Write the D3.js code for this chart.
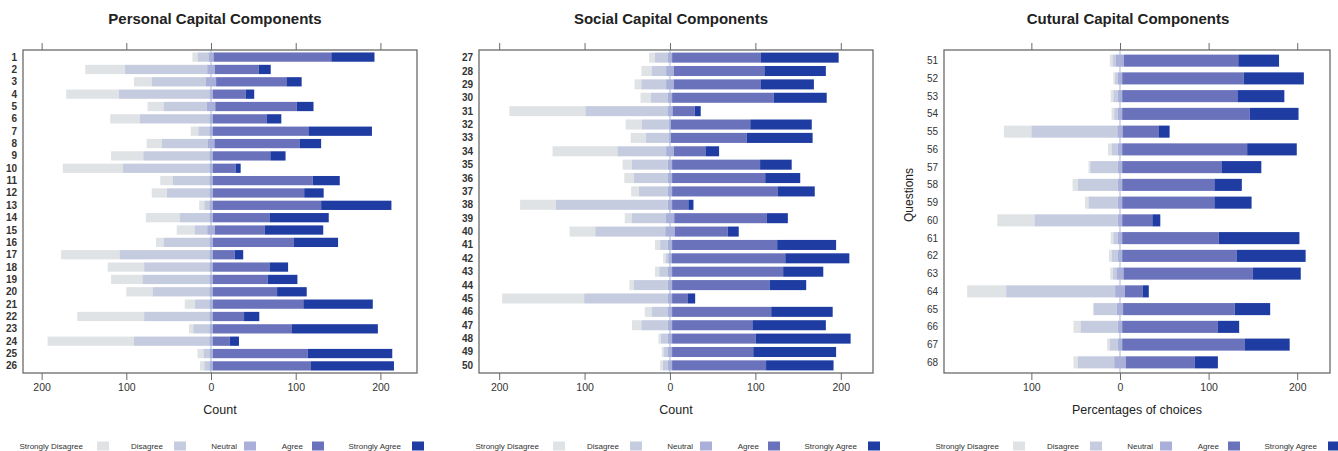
<!DOCTYPE html>
<html>
<head>
<meta charset="utf-8">
<script src="https://cdn.jsdelivr.net/npm/d3@7"></script>
<style>
  body { margin: 0; background: #fff; }
  svg { display: block; font-family: "Liberation Sans", Arial, sans-serif; }
</style>
</head>
<body>
<svg id="chart" width="1338" height="451"></svg>
<script>
// Response levels and their fills
const levels = ["Strongly Disagree", "Disagree", "Neutral", "Agree", "Strongly Agree"];
const levelColors = ["#e0e3e6", "#c6cce0", "#a9afd8", "#6a72bb", "#1e3ca2"];

// Personal capital questions (counts per response level)
const personalQuestions = ["1","2","3","4","5","6","7","8","9","10","11","12","13","14","15","16","17","18","19","20","21","22","23","24","25","26"];
const personalSD = [6,47,21,62,19,35,9,18,38,71,15,18,6,40,21,9,69,43,37,31,12,79,5,102,7,5];
const personalD  = [13,97,64,107,51,82,13,54,78,102,43,50,6,35,15,54,106,77,79,67,17,77,19,89,7,6];
const personalN  = [6,9,12,4,10,4,4,8,4,4,4,4,4,4,9,4,4,4,4,4,4,4,4,4,4,4];
const personalA  = [139,52,83,39,96,64,113,101,68,27,118,108,128,67,59,96,26,67,65,76,107,37,93,20,112,116];
const personalSA = [51,14,18,10,20,17,75,25,18,6,32,23,83,70,69,52,10,22,35,35,82,18,102,11,100,98];

// Social capital questions
const socialQuestions = ["27","28","29","30","31","32","33","34","35","36","37","38","39","40","41","42","43","44","45","46","47","48","49","50"];
const socialSD = [7,12,8,12,89,19,18,76,11,11,9,42,8,30,6,3,5,5,96,8,11,3,2,3];
const socialD  = [15,17,29,20,96,32,27,57,42,40,34,131,40,82,9,3,10,40,98,19,31,8,5,6];
const socialN  = [5,9,9,5,6,2,2,9,5,5,5,5,10,11,5,4,5,5,5,5,5,5,5,5];
const socialA  = [104,106,102,119,26,93,89,37,103,109,124,19,108,62,123,133,130,114,18,116,94,98,95,110];
const socialSA = [91,72,62,62,7,72,77,16,37,41,43,6,25,13,69,75,47,43,9,72,86,111,97,79];

// Cultural capital questions
const culturalQuestions = ["51","52","53","54","55","56","57","58","59","60","61","62","63","64","65","66","67","68"];
const culturalSD = [3,2,3,3,31,4,2,6,4,42,3,3,3,44,1,8,3,5];
const culturalD  = [4,3,5,4,97,7,31,45,33,94,5,7,4,123,26,42,9,41];
const culturalN  = [9,5,5,5,6,5,5,5,5,5,5,5,8,11,7,5,5,13];
const culturalA  = [129,137,130,144,41,141,112,104,104,34,109,129,146,20,126,108,138,78];
const culturalSA = [46,68,53,55,12,56,45,31,42,9,91,78,54,7,40,24,51,26];

const panels = [
  { title: "Personal Capital Components", titleX: 215, xLabel: "Count",
    questions: personalQuestions, series: [personalSD, personalD, personalN, personalA, personalSA],
    left: 23, right: 417, domain: [-222, 243.2], pad: 0.575, barFrac: 0.75,
    labelX: 17, labelWeight: "bold", legendX: 17 },
  { title: "Social Capital Components", titleX: 671, xLabel: "Count",
    questions: socialQuestions, series: [socialSD, socialD, socialN, socialA, socialSA],
    left: 479, right: 873, domain: [-223.6, 237.7], pad: 0.57, barFrac: 0.75,
    labelX: 473, labelWeight: "bold", legendX: 473 },
  { title: "Cutural Capital Components", titleX: 1128, xLabel: "Percentages of choices",
    questions: culturalQuestions, series: [culturalSD, culturalD, culturalN, culturalA, culturalSA],
    left: 944, right: 1330, domain: [-198.6, 237], pad: 0.6, barFrac: 0.68,
    labelX: 938, labelWeight: "normal", legendX: 933, yTitle: "Questions" }
];

const plotTop = 50, plotBottom = 373;
const svg = d3.select("#chart");

panels.forEach(p => {
  const g = svg.append("g");
  const x = d3.scaleLinear().domain(p.domain).range([p.left, p.right]);
  const y = d3.scalePoint().domain(p.questions).range([plotTop, plotBottom]).padding(p.pad);
  const bh = y.step() * p.barFrac;

  // Diverging stack: neutral is split evenly around zero
  const rows = p.questions.map((q, i) => {
    const [sd, d, n, a, sa] = p.series.map(s => s[i]);
    const segs = [
      [-(sd + d + n / 2), -(d + n / 2)],
      [-(d + n / 2), -n / 2],
      [-n / 2, n / 2],
      [n / 2, n / 2 + a],
      [n / 2 + a, n / 2 + a + sa]
    ];
    return { q, segs };
  });

  const rowG = g.selectAll("g.row").data(rows).join("g").attr("class", "row");
  rowG.selectAll("rect").data(r => r.segs.map((s, k) => ({ q: r.q, s, k })))
    .join("rect")
    .attr("x", d => x(d.s[0]))
    .attr("width", d => Math.max(0, x(d.s[1]) - x(d.s[0])))
    .attr("y", d => y(d.q) - bh / 2)
    .attr("height", bh)
    .attr("fill", d => levelColors[d.k]);

  // Zero reference line
  g.append("line")
    .attr("x1", x(0)).attr("x2", x(0))
    .attr("y1", plotTop).attr("y2", plotBottom)
    .attr("stroke", "#a7b6d8").attr("stroke-width", 1);

  // Frame
  g.append("rect")
    .attr("x", p.left).attr("y", plotTop)
    .attr("width", p.right - p.left).attr("height", plotBottom - plotTop)
    .attr("fill", "none").attr("stroke", "#6a6a6a").attr("stroke-width", 1.3);

  const ticks = [-200, -100, 0, 100, 200].filter(t => t >= p.domain[0] && t <= p.domain[1]);

  const xb = g.append("g").attr("transform", `translate(0,${plotBottom})`)
    .call(d3.axisBottom(x).tickValues(ticks).tickFormat(v => Math.abs(v)).tickSize(7).tickPadding(4));
  const xt = g.append("g").attr("transform", `translate(0,${plotTop})`)
    .call(d3.axisTop(x).tickValues(ticks).tickFormat("").tickSize(7));
  [xb, xt].forEach(a => {
    a.select(".domain").remove();
    a.selectAll(".tick line").attr("stroke", "#6a6a6a");
    a.selectAll("text").attr("fill", "#333").attr("font-size", 10.5)
      .attr("font-family", "Liberation Sans, Arial, sans-serif");
  });

  // Question labels
  g.selectAll("text.q").data(p.questions).join("text")
    .attr("class", "q")
    .attr("x", p.labelX).attr("y", d => y(d))
    .attr("dy", "0.35em")
    .attr("text-anchor", "end")
    .attr("font-size", 10)
    .attr("font-weight", p.labelWeight)
    .attr("fill", "#333")
    .text(d => d);

  // Title
  g.append("text")
    .attr("x", p.titleX).attr("y", 24)
    .attr("text-anchor", "middle")
    .attr("font-size", 15).attr("font-weight", "bold")
    .attr("fill", "#222")
    .text(p.title);

  // Axis title
  g.append("text")
    .attr("x", (p.left + p.right) / 2).attr("y", 414)
    .attr("text-anchor", "middle")
    .attr("font-size", 12.5)
    .attr("fill", "#222")
    .text(p.xLabel);

  if (p.yTitle) {
    g.append("text")
      .attr("transform", `translate(913,195) rotate(-90)`)
      .attr("text-anchor", "middle")
      .attr("font-size", 12)
      .attr("fill", "#222")
      .text(p.yTitle);
  }

  // Legend
  const textEnds = [66, 146, 220, 286, 384];
  const swatchX = [80, 157, 227, 295, 395];
  const lg = g.append("g").attr("transform", `translate(${p.legendX},446)`);
  levels.forEach((lv, k) => {
    lg.append("text")
      .attr("x", textEnds[k]).attr("y", 0).attr("dy", "0.35em")
      .attr("text-anchor", "end")
      .attr("font-size", 8)
      .attr("fill", "#333")
      .text(lv);
    lg.append("rect")
      .attr("x", swatchX[k]).attr("y", -4.5)
      .attr("width", 12).attr("height", 9)
      .attr("fill", levelColors[k]);
  });
});
</script>
</body>
</html>
